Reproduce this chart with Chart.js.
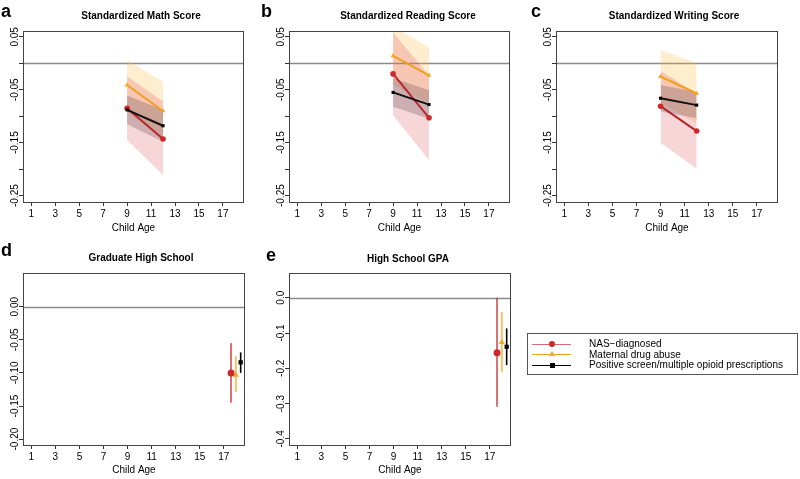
<!DOCTYPE html>
<html>
<head>
<meta charset="utf-8">
<script src="https://cdn.jsdelivr.net/npm/chart.js@4.4.0/dist/chart.umd.min.js"></script>
<style>
  body { margin: 0; background: #fff; }
  #page { position: relative; width: 800px; height: 479px; overflow: hidden; font-family: "Liberation Sans", Arial, sans-serif; color: #000; }
  canvas { position: absolute; }
  .ttl { position: absolute; font-size: 10px; line-height: 10px; font-weight: bold; white-space: nowrap; transform: translateX(-50%); }
  .let { position: absolute; font-size: 18px; line-height: 18px; font-weight: bold; }
  #legend { position: absolute; left: 527px; top: 333px; width: 271px; height: 42px; box-sizing: border-box; border: 1px solid #555; }
  #legend .ln { position: absolute; left: 4px; width: 39px; height: 0; }
  #legend .tx { position: absolute; left: 61px; font-size: 10px; line-height: 10px; white-space: nowrap; }
  #legend .mk { position: absolute; }
</style>
</head>
<body>
<div id="page">
  <canvas id="cA"></canvas>
  <canvas id="cB"></canvas>
  <canvas id="cC"></canvas>
  <canvas id="cD"></canvas>
  <canvas id="cE"></canvas>

  <div class="let" style="left:1px;top:2px">a</div>
  <div class="let" style="left:261px;top:2px">b</div>
  <div class="let" style="left:531px;top:2px">c</div>
  <div class="let" style="left:1px;top:241px">d</div>
  <div class="let" style="left:266px;top:246px">e</div>

  <div class="ttl" style="left:141px;top:11px">Standardized Math Score</div>
  <div class="ttl" style="left:408px;top:11px">Standardized Reading Score</div>
  <div class="ttl" style="left:674px;top:11px">Standardized Writing Score</div>
  <div class="ttl" style="left:141px;top:253px">Graduate High School</div>
  <div class="ttl" style="left:408px;top:254px">High School GPA</div>

  <div id="legend"></div>
</div>

<script>
// ages where the test scores are measured
const AGES = [9, 12];
const XTICKS = [1, 3, 5, 7, 9, 11, 13, 15, 17];
const SERIES = ['NAS\u2212diagnosed', 'Maternal drug abuse', 'Positive screen/multiple opioid prescriptions'];

// a - math
const mathNas = [-0.085, -0.143], mathNasLo = [-0.145, -0.211], mathNasHi = [-0.025, -0.072];
const mathMat = [-0.041, -0.090], mathMatLo = [-0.093, -0.142], mathMatHi = [0.006, -0.035];
const mathPos = [-0.088, -0.118], mathPosLo = [-0.115, -0.148], mathPosHi = [-0.061, -0.088];

// b - reading
const readNas = [-0.020, -0.103], readNasLo = [-0.098, -0.183], readNasHi = [0.058, -0.023];
const readMat = [0.014, -0.023], readMatLo = [-0.041, -0.076], readMatHi = [0.070, 0.030];
const readPos = [-0.055, -0.078], readPosLo = [-0.082, -0.105], readPosHi = [-0.028, -0.051];

// c - writing
const writNas = [-0.081, -0.128], writNasLo = [-0.150, -0.199], writNasHi = [-0.014, -0.057];
const writMat = [-0.025, -0.057], writMatLo = [-0.074, -0.114], writMatHi = [0.025, 0.000];
const writPos = [-0.066, -0.079], writPosLo = [-0.091, -0.104], writPosHi = [-0.041, -0.054];

// d / e - end of high school, points dodged around age 18
const HS_X = [17.6, 18.0, 18.4];
const gradEst = [-0.100, -0.103, -0.084], gradLo = [-0.145, -0.129, -0.100], gradHi = [-0.055, -0.075, -0.069];
const gpaEst = [-0.156, -0.126, -0.139], gpaLo = [-0.309, -0.210, -0.191], gpaHi = [0.000, -0.040, -0.087];

// y ticks
const SCORE_TICKS = [0.05, 0, -0.05, -0.10, -0.15, -0.20, -0.25];
const SCORE_LABELS = ['0.05', '', '-0.05', '', '-0.15', '', '-0.25'];
const GRAD_TICKS = [0, -0.05, -0.10, -0.15, -0.20];
const GRAD_LABELS = ['0.00', '-0.05', '-0.10', '-0.15', '-0.20'];
const GPA_TICKS = [0, -0.1, -0.2, -0.3, -0.4];
const GPA_LABELS = ['0.0', '-0.1', '-0.2', '-0.3', '-0.4'];

const FONT = '"Liberation Sans", Arial, sans-serif';
const LINE_COL = ['#b5272d', '#f0a020', '#111111'];
const PT_COL = ['#cc2a2a', '#f5a623', '#000000'];
const BAND_COL = ['rgba(215,60,70,0.21)', 'rgba(255,180,60,0.24)', 'rgba(60,35,50,0.22)'];
const BAR_COL = ['rgba(200,50,55,0.70)', 'rgba(245,170,40,0.70)', '#000000'];
const STYLES = ['circle', 'triangle', 'rect'];

Chart.defaults.font.family = FONT;
Chart.defaults.font.size = 10;
Chart.defaults.color = '#000';

const pts = (xs, ys) => xs.map((x, i) => ({ x: x, y: ys[i] }));

function scoreSets(est, lo, hi) {
  const out = [];
  // lines on top
  [2, 0, 1].forEach(k => {
    out.push({
      data: pts(AGES, est[k]), borderColor: LINE_COL[k], borderWidth: 2, fill: false,
      pointStyle: STYLES[k], pointRadius: k === 2 ? 2.2 : 2.8, pointBackgroundColor: PT_COL[k],
      pointBorderWidth: 0, order: k === 2 ? 0 : 1
    });
  });
  // bands: orange, red, black
  [1, 0, 2].forEach((k, j) => {
    out.push({ data: pts(AGES, hi[k]), fill: '+1', backgroundColor: BAND_COL[k], borderColor: 'rgba(0,0,0,0)', borderWidth: 0, pointRadius: 0, order: 12 - j });
    out.push({ data: pts(AGES, lo[k]), fill: false, borderColor: 'rgba(0,0,0,0)', borderWidth: 0, pointRadius: 0, order: 12 - j });
  });
  return out;
}

function barSets(est, lo, hi) {
  const out = [];
  [0, 1, 2].forEach(k => {
    out.push({
      data: [{ x: HS_X[k], y: est[k] }], showLine: false, pointStyle: STYLES[k],
      pointRadius: k === 2 ? 3 : 3.5, pointBackgroundColor: PT_COL[k], pointBorderWidth: 0, order: 0
    });
    out.push({
      data: [{ x: HS_X[k], y: lo[k] }, { x: HS_X[k], y: hi[k] }], borderColor: BAR_COL[k],
      borderWidth: k === 2 ? 1.6 : 2, pointRadius: 0, fill: false, order: 1
    });
  });
  return out;
}

const frame = {
  id: 'frame',
  beforeDatasetsDraw(chart) {
    const { ctx, chartArea: a } = chart;
    const y0 = Math.round(chart.scales.y.getPixelForValue(0)) + 0.5;
    ctx.save();
    ctx.strokeStyle = '#8a8a8a';
    ctx.lineWidth = 1.3;
    ctx.beginPath(); ctx.moveTo(a.left, y0); ctx.lineTo(a.right, y0); ctx.stroke();
    ctx.restore();
  },
  afterDraw(chart) {
    const { ctx, chartArea: a } = chart;
    const o = chart.options.plugins.frame;
    ctx.save();
    ctx.strokeStyle = '#444';
    ctx.lineWidth = 1;
    ctx.strokeRect(a.left + 0.5, a.top + 0.5, a.right - a.left - 1, a.bottom - a.top);
    ctx.fillStyle = '#000';
    ctx.font = '10px ' + FONT;
    ctx.textAlign = 'center';
    ctx.textBaseline = 'middle';
    o.ticks.forEach((v, i) => {
      if (!o.labels[i]) return;
      const y = chart.scales.y.getPixelForValue(v);
      ctx.save();
      ctx.translate(a.left - 8, y);
      ctx.rotate(-Math.PI / 2);
      ctx.fillText(o.labels[i], 0, 0);
      ctx.restore();
    });
    ctx.restore();
  }
};

function panel(id, cv, box, yMin, yMax, yTicks, yLabels, datasets, titlePad) {
  const c = document.getElementById(id);
  c.width = cv.w; c.height = cv.h;
  c.style.left = cv.l + 'px'; c.style.top = cv.t + 'px';
  c.style.width = cv.w + 'px'; c.style.height = cv.h + 'px';
  new Chart(c, {
    type: 'line',
    data: { datasets: datasets },
    options: {
      responsive: false,
      animation: false,
      events: [],
      layout: { padding: { left: 0, top: box.t - cv.t, right: cv.l + cv.w - box.r, bottom: 0 } },
      plugins: {
        legend: { display: false },
        tooltip: { enabled: false },
        frame: { ticks: yTicks, labels: yLabels }
      },
      scales: {
        x: {
          type: 'linear', min: 0.31, max: 18.76,
          afterBuildTicks: s => { s.ticks = XTICKS.map(v => ({ value: v })); },
          afterFit: s => { s.height = cv.t + cv.h - box.b; },
          grid: { drawOnChartArea: false, drawTicks: true, tickLength: 4, color: '#333' },
          border: { display: false },
          ticks: { autoSkip: false, maxRotation: 0, padding: 2, color: '#000', font: { size: 10 }, callback: v => String(v) },
          title: { display: true, text: 'Child Age', color: '#000', font: { size: 10 }, padding: { top: 0, bottom: titlePad } }
        },
        y: {
          type: 'linear', min: yMin, max: yMax,
          afterBuildTicks: s => { s.ticks = yTicks.map(v => ({ value: v })); },
          afterFit: s => { s.width = box.l - cv.l; },
          grid: { drawOnChartArea: false, drawTicks: true, tickLength: 4, color: '#333' },
          border: { display: false },
          ticks: { autoSkip: false, callback: () => '' }
        }
      }
    },
    plugins: [frame]
  });
}

const TOP = { t: 0, h: 240 }, BOT = { t: 240, h: 239 };

panel('cA', { l: 0, t: TOP.t, w: 262, h: TOP.h }, { l: 23, t: 31, r: 244, b: 202 }, -0.262, 0.061,
  SCORE_TICKS, SCORE_LABELS,
  scoreSets([mathNas, mathMat, mathPos], [mathNasLo, mathMatLo, mathPosLo], [mathNasHi, mathMatHi, mathPosHi]), 6);
panel('cB', { l: 266, t: TOP.t, w: 266, h: TOP.h }, { l: 289, t: 31, r: 510, b: 202 }, -0.262, 0.061,
  SCORE_TICKS, SCORE_LABELS,
  scoreSets([readNas, readMat, readPos], [readNasLo, readMatLo, readPosLo], [readNasHi, readMatHi, readPosHi]), 6);
panel('cC', { l: 533, t: TOP.t, w: 267, h: TOP.h }, { l: 556, t: 31, r: 778, b: 202 }, -0.262, 0.061,
  SCORE_TICKS, SCORE_LABELS,
  scoreSets([writNas, writMat, writPos], [writNasLo, writMatLo, writPosLo], [writNasHi, writMatHi, writPosHi]), 6);
panel('cD', { l: 0, t: BOT.t, w: 262, h: BOT.h }, { l: 23, t: 273, r: 245, b: 445 }, -0.2089, 0.0509,
  GRAD_TICKS, GRAD_LABELS, barSets(gradEst, gradLo, gradHi), 3);
panel('cE', { l: 266, t: BOT.t, w: 266, h: BOT.h }, { l: 289, t: 273, r: 511, b: 445 }, -0.4173, 0.070,
  GPA_TICKS, GPA_LABELS, barSets(gpaEst, gpaLo, gpaHi), 3);

// legend
const lg = document.getElementById('legend');
const rowY = [10, 20.5, 31];
const legLine = ['rgba(200,60,65,0.75)', '#f0a020', '#000'];
SERIES.forEach((name, k) => {
  const ln = document.createElement('div');
  ln.className = 'ln';
  ln.style.top = (rowY[k] - 0.5) + 'px';
  ln.style.borderTop = '1.3px solid ' + legLine[k];
  lg.appendChild(ln);
  const mk = document.createElement('div');
  mk.className = 'mk';
  if (k === 0) {
    mk.style.cssText += 'left:21px;top:' + (rowY[k] - 3) + 'px;width:6px;height:6px;border-radius:50%;background:' + PT_COL[0];
  } else if (k === 1) {
    mk.style.cssText += 'left:21px;top:' + (rowY[k] - 3.5) + 'px;width:0;height:0;border-left:3px solid transparent;border-right:3px solid transparent;border-bottom:5px solid ' + PT_COL[1];
  } else {
    mk.style.cssText += 'left:21.5px;top:' + (rowY[k] - 2.5) + 'px;width:5px;height:5px;background:#000';
  }
  lg.appendChild(mk);
  const tx = document.createElement('div');
  tx.className = 'tx';
  tx.style.top = (rowY[k] - 5) + 'px';
  tx.textContent = name;
  lg.appendChild(tx);
});
</script>
</body>
</html>
